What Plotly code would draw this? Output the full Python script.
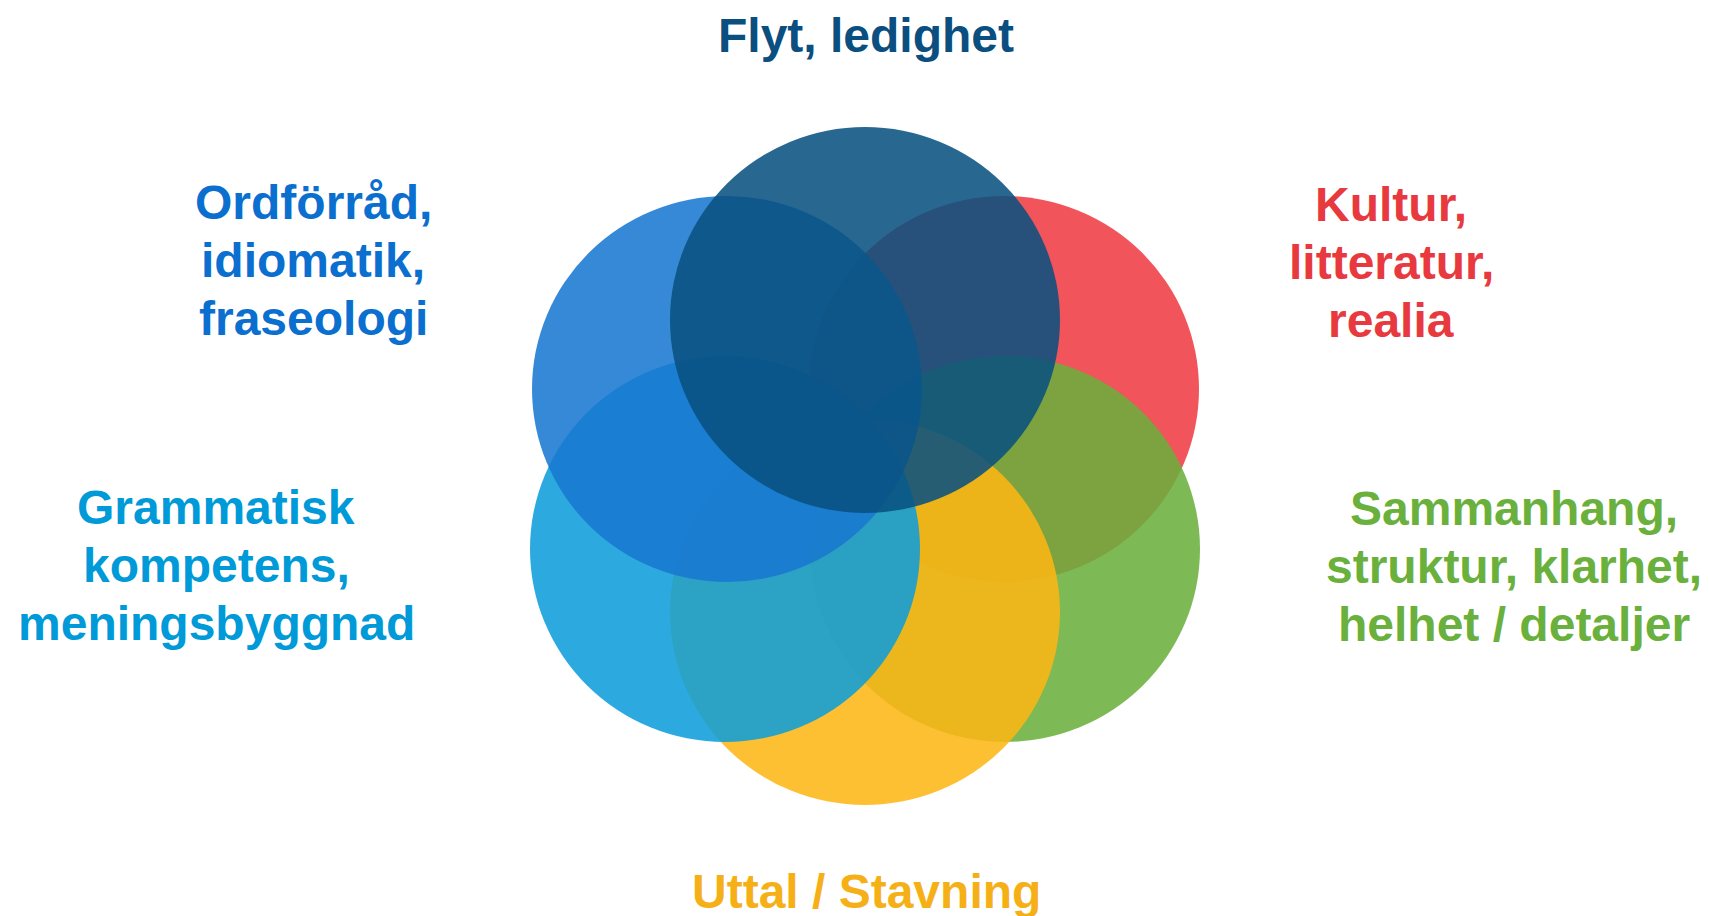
import plotly.graph_objects as go

# Circle data (centers in pixel-like coordinates of the drawing area)
circle_names = ["Kultur", "Sammanhang", "Uttal", "Grammatik", "Ordförråd", "Flyt"]
circle_cx = [996, 997, 857, 717, 719, 857]
circle_cy = [381, 541, 604, 541, 381, 312]
circle_rx = [195, 195, 195, 195, 195, 195]
circle_ry = [193, 193, 193, 193, 193, 193]
circle_colors = ["#EF3B42", "#6AAF3C", "#FDB714", "#0D9DDB", "#1878D0", "#08507F"]

# Labels
label_lines = [
    ["Flyt, ledighet"],
    ["Ordförråd,", "idiomatik,", "fraseologi"],
    ["Kultur,", "litteratur,", "realia"],
    ["Grammatisk", "kompetens,", "meningsbyggnad"],
    ["Sammanhang,", "struktur, klarhet,", "helhet / detaljer"],
    ["Uttal / Stavning"],
]
label_x = [858, 305, 1383, 208, 1506, 858]
label_y0 = [27, 194, 196, 499, 500, 883]
label_colors = ["#0B4F80", "#0A6FCF", "#E8393F", "#009AD9", "#6AB03C", "#F6B017"]
LINE_STEP = 58

W, H = 1709, 916
fig = go.Figure()
fig.add_trace(go.Scatter(x=[0, W], y=[0, H], mode="markers",
                         marker=dict(opacity=0), hoverinfo="skip", showlegend=False))

shapes = []
for cx, cy, rx, ry, col in zip(circle_cx, circle_cy, circle_rx, circle_ry, circle_colors):
    shapes.append(dict(type="circle", xref="x", yref="y",
                       x0=cx - rx, x1=cx + rx, y0=cy - ry, y1=cy + ry,
                       fillcolor=col, opacity=0.87, line=dict(width=0), layer="below"))

annotations = []
for lines, x, y0, col in zip(label_lines, label_x, label_y0, label_colors):
    for i, ln in enumerate(lines):
        annotations.append(dict(x=x, y=y0 + i * LINE_STEP, xref="x", yref="y",
                                text=ln, showarrow=False, xanchor="center", yanchor="middle",
                                font=dict(family="Liberation Sans, Arial", size=48,
                                          color=col, weight="bold")))

fig.update_layout(
    width=W, height=H,
    margin=dict(l=0, r=0, t=0, b=0),
    paper_bgcolor="white", plot_bgcolor="white",
    xaxis=dict(range=[0, W], visible=False, fixedrange=True),
    yaxis=dict(range=[H, 0], visible=False, fixedrange=True),
    shapes=shapes, annotations=annotations, showlegend=False,
)
fig.write_html("out.html")
